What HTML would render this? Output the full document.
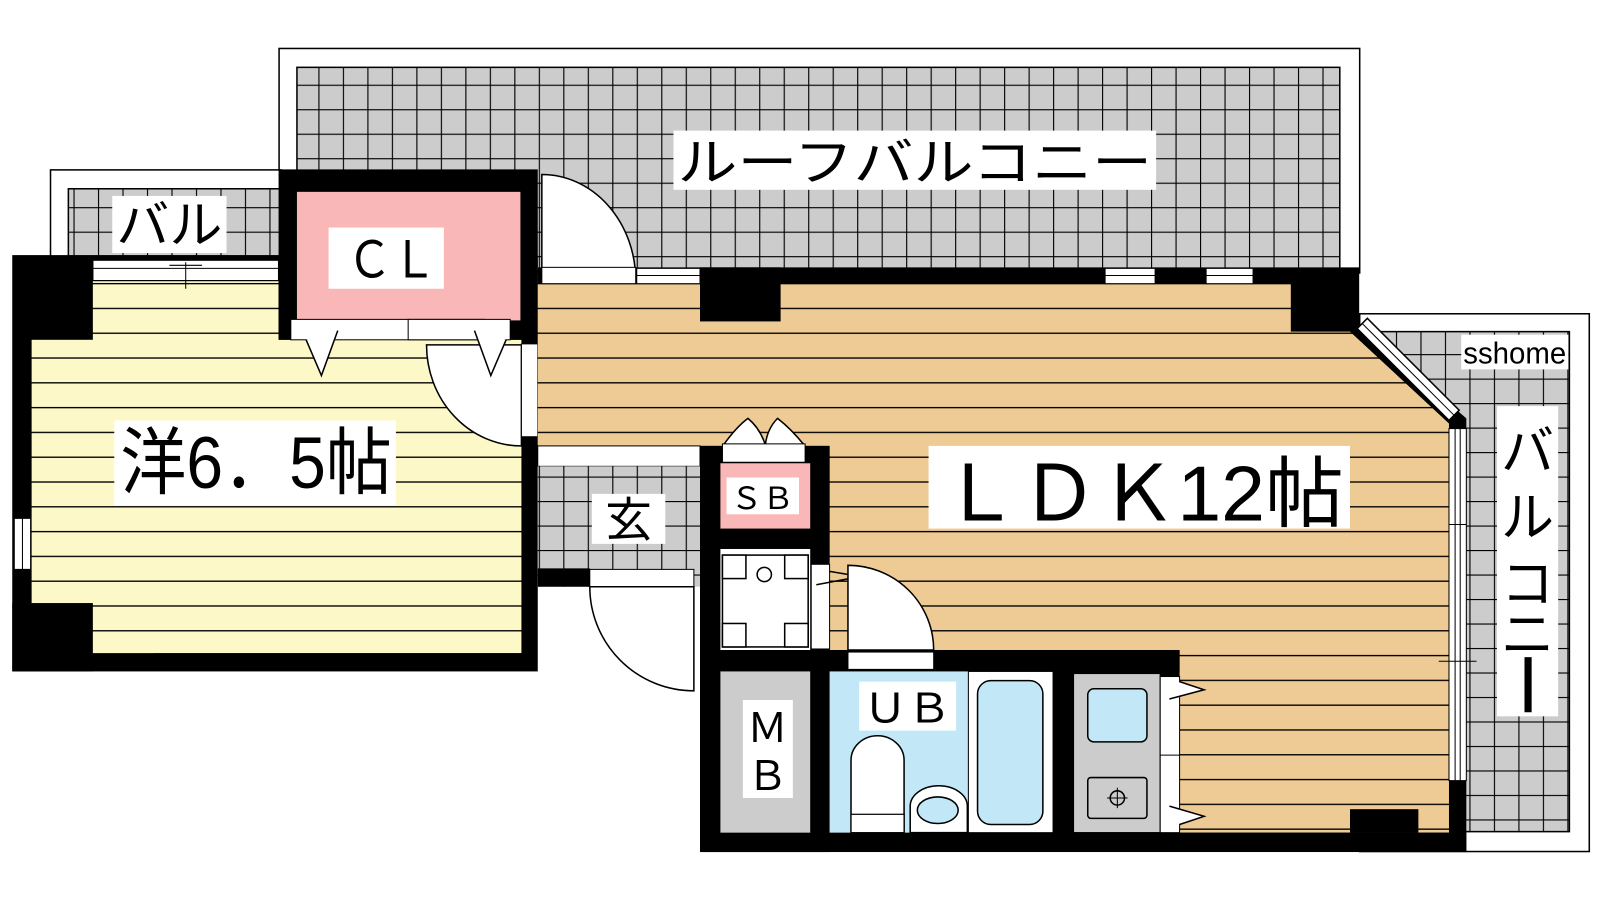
<!DOCTYPE html>
<html><head><meta charset="utf-8"><style>html,body{margin:0;padding:0;background:#fff}svg{display:block}
text{font-family:"Liberation Sans","Noto Sans CJK JP",sans-serif;fill:#000}</style></head>
<body>
<svg width="1600" height="900" viewBox="0 0 1568 882" preserveAspectRatio="none" xmlns="http://www.w3.org/2000/svg">
<defs>
<pattern id="grid" patternUnits="userSpaceOnUse" x="0" y="11" width="24" height="24">
<rect width="24" height="24" fill="#cccccc"/>
<path d="M0 0H24M0 0V24" stroke="#000" stroke-width="2.2"/>
</pattern>
<pattern id="ystripe" patternUnits="userSpaceOnUse" x="0" y="10" width="24" height="24.3">
<rect width="24" height="24.3" fill="#fdf8c8"/>
<path d="M0 0.5H24" stroke="#000" stroke-width="1.6"/>
</pattern>
<pattern id="ostripe" patternUnits="userSpaceOnUse" x="0" y="10" width="24" height="24.3">
<rect width="24" height="24.3" fill="#eecb94"/>
<path d="M0 0.5H24" stroke="#000" stroke-width="1.6"/>
</pattern>
</defs>

<rect x="273.5" y="47.5" width="1059" height="220" fill="#fff" stroke="#000" stroke-width="1.5"/>
<rect x="291" y="66" width="1022" height="200" fill="url(#grid)" stroke="#000" stroke-width="1.5"/>
<rect x="660" y="128" width="473" height="58" fill="#fff"/>
<text x="664" y="177" font-size="50" textLength="465" lengthAdjust="spacingAndGlyphs">ルーフバルコニー</text>

<rect x="49.5" y="166.5" width="226" height="90" fill="#fff" stroke="#000" stroke-width="1.5"/>
<rect x="67" y="185" width="208" height="66" fill="url(#grid)" stroke="#000" stroke-width="1.5"/>
<rect x="110" y="192" width="112" height="56" fill="#fff"/>
<text x="114" y="238" font-size="50" textLength="104" lengthAdjust="spacingAndGlyphs">バル</text>

<rect x="1332.5" y="307.5" width="225" height="527" fill="#fff" stroke="#000" stroke-width="1.5"/>
<rect x="1350" y="325" width="188" height="490" fill="url(#grid)" stroke="#000" stroke-width="1.5"/>
<rect x="1432" y="328" width="105" height="34" fill="#fff"/>
<text x="1434" y="356" font-size="30" textLength="101" lengthAdjust="spacingAndGlyphs">sshome</text>
<rect x="1467" y="398" width="60" height="304" fill="#fff"/>
<text font-size="52" text-anchor="middle"><tspan x="1497" y="460">バ</tspan><tspan x="1497" y="525">ル</tspan><tspan x="1497" y="590">コ</tspan><tspan x="1497" y="640">ニ</tspan></text>
<rect x="1494" y="644" width="7" height="54" fill="#000"/>

<rect x="12" y="250" width="515" height="408" fill="#000"/>
<rect x="91" y="275" width="182" height="60" fill="url(#ystripe)"/>
<rect x="31" y="333" width="480" height="307" fill="url(#ystripe)"/>
<rect x="91" y="590" width="60" height="50" fill="url(#ystripe)"/>
<rect x="12" y="591" width="79" height="67" fill="#000"/>
<rect x="91" y="255" width="182" height="20" fill="#fff" stroke="#000" stroke-width="1.2"/>
<line x1="91" y1="263" x2="273" y2="263" stroke="#000" stroke-width="1"/>
<line x1="182" y1="257" x2="182" y2="283" stroke="#000" stroke-width="1"/>
<line x1="166" y1="260" x2="198" y2="260" stroke="#000" stroke-width="1"/>
<rect x="14" y="508" width="16" height="50" fill="#fff" stroke="#000" stroke-width="1"/>
<line x1="22" y1="508" x2="22" y2="558" stroke="#000"/>
<rect x="112" y="412" width="276" height="83" fill="#fff"/>
<text x="118" y="478" font-size="72" textLength="266" lengthAdjust="spacingAndGlyphs">洋6．5帖</text>

<rect x="273" y="166" width="254" height="167" fill="#000"/>
<rect x="291" y="188" width="219" height="126" fill="#f9b7b7"/>
<rect x="322" y="223" width="113" height="60" fill="#fff"/>
<text x="340" y="272" font-size="50" textLength="88" lengthAdjust="spacingAndGlyphs">ＣＬ</text>
<path d="M418 338 H511 V437 A93 99 0 0 1 418 338Z" fill="#fff" stroke="#000" stroke-width="1.5"/>
<rect x="511" y="337" width="16" height="91" fill="#fff" stroke="#000" stroke-width="1"/>
<rect x="285" y="313" width="190" height="20" fill="#fff" stroke="#000" stroke-width="1"/>
<rect x="400" y="313" width="100" height="20" fill="#fff" stroke="#000" stroke-width="1"/>
<path d="M300 333 L315 368 L331 324" fill="#fff" stroke="#000" stroke-width="1.5"/>
<path d="M465 324 L481 368 L496 333" fill="#fff" stroke="#000" stroke-width="1.5"/>

<path d="M527 262 H1332 V318 L1437 410 V835 H686 V437 H527Z" fill="#000"/>
<path d="M527 278 H1265 V325 H1323 L1420 415 V816 H1156 V637 H813 V437 H527Z" fill="url(#ostripe)"/>
<rect x="686" y="262" width="79" height="53" fill="#000"/>
<rect x="624" y="263" width="62" height="15" fill="#fff" stroke="#000" stroke-width="1"/>
<line x1="624" y1="270" x2="686" y2="270" stroke="#000"/>
<rect x="1083" y="263" width="49" height="15" fill="#fff" stroke="#000" stroke-width="1"/>
<line x1="1083" y1="270" x2="1132" y2="270" stroke="#000"/>
<rect x="1182" y="263" width="46" height="15" fill="#fff" stroke="#000" stroke-width="1"/>
<line x1="1182" y1="270" x2="1228" y2="270" stroke="#000"/>
<path d="M531 171 A92 104 0 0 1 623 275 H531Z" fill="#fff" stroke="#000" stroke-width="1.5"/>
<rect x="531" y="262" width="92" height="16" fill="#fff" stroke="#000" stroke-width="1"/>
<polygon points="1330,322 1340,312 1430,402 1420,412" fill="#fff" stroke="#000" stroke-width="1.5"/>
<line x1="1335" y1="317" x2="1425" y2="407" stroke="#000" stroke-width="1"/>
<rect x="1420" y="420" width="17" height="345" fill="#fff" stroke="#000" stroke-width="1"/>
<line x1="1426" y1="420" x2="1426" y2="765" stroke="#000"/>
<line x1="1431" y1="420" x2="1431" y2="765" stroke="#000"/>
<line x1="1420" y1="514" x2="1437" y2="514" stroke="#000"/>
<line x1="1410" y1="648" x2="1447" y2="648" stroke="#000"/>
<rect x="1323" y="793" width="67" height="23" fill="#000"/>
<rect x="910" y="437" width="413" height="81" fill="#fff"/>
<text x="922" y="510" font-size="76" textLength="395" lengthAdjust="spacingAndGlyphs">ＬＤＫ12帖</text>

<rect x="527" y="437" width="159" height="20" fill="#fff" stroke="#000" stroke-width="1"/>
<rect x="527" y="457" width="159" height="118" fill="url(#grid)"/>
<rect x="580" y="484" width="72" height="49" fill="#fff"/>
<text x="616" y="526" font-size="46" text-anchor="middle">玄</text>
<rect x="527" y="557" width="51" height="18" fill="#000"/>
<rect x="578" y="558" width="102" height="17" fill="#fff" stroke="#000" stroke-width="1"/>
<path d="M578 575 A102 102 0 0 0 680 677 V575Z" fill="#fff" stroke="#000" stroke-width="1.5"/>

<rect x="686" y="437" width="127" height="398" fill="#000"/>
<rect x="686" y="637" width="470" height="21" fill="#000"/>
<rect x="686" y="816" width="751" height="19" fill="#000"/>
<path d="M709 436 Q722 418 733 410 Q745 420 750 436Z M750 436 Q752 420 762 410 Q775 420 788 436Z" fill="#fff" stroke="#000" stroke-width="1.5"/>
<rect x="708" y="435" width="81" height="18" fill="#fff" stroke="#000" stroke-width="1"/>
<rect x="706" y="454" width="88" height="64" fill="#f9b7b7"/>
<rect x="712" y="468" width="71" height="36" fill="#fff"/>
<text x="716" y="499" font-size="30" textLength="62" lengthAdjust="spacingAndGlyphs">ＳＢ</text>
<rect x="706" y="538" width="88" height="99" fill="#fff"/>
<rect x="708" y="544" width="84" height="90" fill="#fff" stroke="#000" stroke-width="1.5"/>
<rect x="708" y="544" width="23" height="23" fill="#fff" stroke="#000" stroke-width="1.5"/>
<rect x="769" y="544" width="23" height="23" fill="#fff" stroke="#000" stroke-width="1.5"/>
<rect x="708" y="611" width="23" height="23" fill="#fff" stroke="#000" stroke-width="1.5"/>
<rect x="769" y="611" width="23" height="23" fill="#fff" stroke="#000" stroke-width="1.5"/>
<circle cx="749" cy="563" r="7" fill="#fff" stroke="#000" stroke-width="1.5"/>
<rect x="795" y="553" width="18" height="83" fill="#fff" stroke="#000" stroke-width="1"/>
<path d="M800 573 L843 565 L813 560" fill="none" stroke="#000" stroke-width="1.5"/>
<path d="M831 554 A84 83 0 0 1 915 637 H831Z" fill="#fff" stroke="#000" stroke-width="1.5"/>
<rect x="831" y="639" width="84" height="17" fill="#fff" stroke="#000" stroke-width="1"/>
<rect x="706" y="658" width="88" height="158" fill="#cccccc"/>
<rect x="728" y="686" width="49" height="96" fill="#fff"/>
<text x="752" y="727" font-size="40" text-anchor="middle">Ｍ</text>
<text x="752" y="774" font-size="40" text-anchor="middle">Ｂ</text>
<rect x="813" y="658" width="136" height="158" fill="#c2e8f8"/>
<rect x="949" y="658" width="83" height="158" fill="#fff" stroke="#000" stroke-width="1"/>
<rect x="958" y="667" width="64" height="141" rx="13" fill="#c2e8f8" stroke="#000" stroke-width="1.5"/>
<rect x="842" y="668" width="95" height="48" fill="#fff"/>
<text x="846" y="708" font-size="40" textLength="86" lengthAdjust="spacingAndGlyphs">ＵＢ</text>
<path d="M834 816 V745 A26 24 0 0 1 886 745 V816Z" fill="#fff" stroke="#000" stroke-width="1.5"/>
<rect x="834" y="798" width="52" height="18" fill="#fff" stroke="#000" stroke-width="1.2"/>
<path d="M892 816 V790 A28 20 0 0 1 948 790 V816Z" fill="#fff" stroke="#000" stroke-width="1.5"/>
<ellipse cx="919" cy="794" rx="20" ry="13" fill="#c2e8f8" stroke="#000" stroke-width="1.5"/>
<rect x="1032" y="658" width="20" height="158" fill="#000"/>
<rect x="1052" y="660" width="85" height="156" fill="#cccccc" stroke="#000" stroke-width="1.2"/>
<rect x="1066" y="675" width="58" height="52" rx="6" fill="#c2e8f8" stroke="#000" stroke-width="1.5"/>
<rect x="1066" y="762" width="58" height="40" rx="3" fill="#cccccc" stroke="#000" stroke-width="1.5"/>
<circle cx="1095" cy="782" r="7" fill="none" stroke="#000" stroke-width="1.5"/>
<path d="M1095 772V792M1085 782H1105" stroke="#000" stroke-width="1"/>
<rect x="1137" y="663" width="19" height="153" fill="#fff" stroke="#000" stroke-width="1"/>
<line x1="1137" y1="740" x2="1156" y2="740" stroke="#000"/>
<path d="M1156 668 L1180 676 L1146 685" fill="#fff" stroke="#000" stroke-width="1.5"/>
<path d="M1146 790 L1180 800 L1156 808" fill="#fff" stroke="#000" stroke-width="1.5"/>
</svg>
</body></html>
